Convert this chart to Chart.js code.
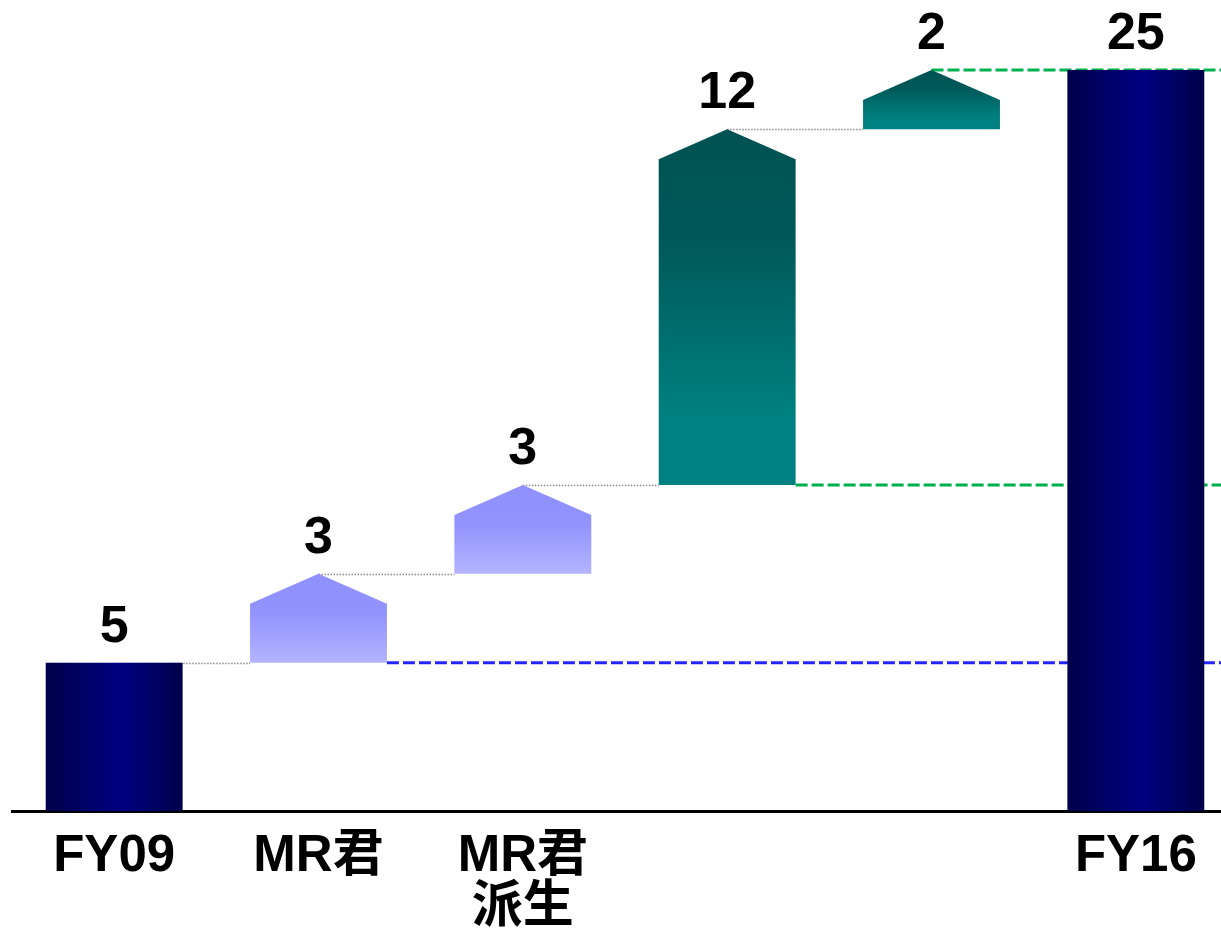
<!DOCTYPE html>
<html>
<head>
<meta charset="utf-8">
<script src="https://cdn.jsdelivr.net/npm/chart.js@4.4.1/dist/chart.umd.min.js"></script>
<style>
  html, body { margin: 0; padding: 0; background: #fff; overflow: hidden; }
  #wrap { width: 1238px; height: 932px; }
</style>
</head>
<body>
<div id="wrap"><canvas id="waterfall" width="1238" height="932"></canvas></div>
<script>
// data
const categories = ['FY09', 'MR君', ['MR君', '派生'], '', '', 'FY16'];
const changes = [5, 3, 3, 12, 2, 25];
const isTotal = [true, false, false, false, false, true];
const barStyle = ['navy', 'lavender', 'lavender', 'teal', 'teal', 'navy'];
// dashed reference lines: value, bar they start from, colour
const refValues = [5, 11, 25];
const refFromBar = [1, 3, 4];
const refColors = ['#2424ff', '#00b050', '#00b050'];

// running totals -> floating bars [start, end]
let running = 0;
const floats = changes.map((v, i) => {
  if (isTotal[i]) { running = v; return [0, v]; }
  const seg = [running, running + v];
  running += v;
  return seg;
});

const ROOF = 30;
const FONT = '"Liberation Sans", Arial, "Noto Sans CJK JP", sans-serif';

function fillFor(ctx, style, b) {
  const l = b.x - b.width / 2, r = b.x + b.width / 2;
  let g;
  if (style === 'navy') {
    g = ctx.createLinearGradient(l, 0, r, 0);
    g.addColorStop(0, '#00004a');
    g.addColorStop(0.55, '#000082');
    g.addColorStop(1, '#00004a');
  } else if (style === 'lavender') {
    g = ctx.createLinearGradient(0, b.y, 0, b.base);
    g.addColorStop(0, '#9090ff');
    g.addColorStop(0.45, '#9393fd');
    g.addColorStop(1, '#b4b4ff');
  } else {
    g = ctx.createLinearGradient(0, b.y, 0, b.base);
    g.addColorStop(0, '#005252');
    g.addColorStop(0.3, '#005858');
    g.addColorStop(0.8, '#008080');
    g.addColorStop(1, '#008080');
  }
  return g;
}

function shapePath(ctx, b, roof) {
  const l = b.x - b.width / 2, r = b.x + b.width / 2;
  ctx.beginPath();
  ctx.moveTo(l, b.base);
  if (roof) {
    ctx.lineTo(l, b.y + ROOF);
    ctx.lineTo(b.x, b.y);
    ctx.lineTo(r, b.y + ROOF);
  } else {
    ctx.lineTo(l, b.y);
    ctx.lineTo(r, b.y);
  }
  ctx.lineTo(r, b.base);
  ctx.closePath();
}

const waterfallPlugin = {
  id: 'waterfall',
  beforeDatasetsDraw(chart) {
    const ctx = chart.ctx;
    const y = chart.scales.y;
    const bars = chart.getDatasetMeta(0).data;
    ctx.save();
    // grey dotted connectors
    ctx.strokeStyle = '#8c8c8c';
    ctx.lineWidth = 1.5;
    ctx.setLineDash([1.5, 1.5]);
    for (let i = 0; i < 4; i++) {
      const py = Math.round(y.getPixelForValue(floats[i][1])) + 0.5;
      ctx.beginPath();
      ctx.moveTo(bars[i].x, py);
      ctx.lineTo(bars[i + 1].x - bars[i + 1].width / 2, py);
      ctx.stroke();
    }
    // coloured dashed reference lines
    ctx.lineWidth = 3;
    ctx.setLineDash([12, 4]);
    refValues.forEach((v, k) => {
      const b = bars[refFromBar[k]];
      const py = y.getPixelForValue(v);
      // from the roof peak when the line marks a bar top, else from the bar's right edge
      const x0 = v === floats[refFromBar[k]][1] ? b.x : b.x + b.width / 2;
      ctx.strokeStyle = refColors[k];
      ctx.beginPath();
      ctx.moveTo(x0, py);
      ctx.lineTo(chart.width, py);
      ctx.stroke();
    });
    ctx.restore();
  },
  beforeDatasetDraw(chart, args) {
    const ctx = chart.ctx;
    const bars = args.meta.data;
    ctx.save();
    bars.forEach((b, i) => {
      shapePath(ctx, b, !isTotal[i]);
      ctx.fillStyle = fillFor(ctx, barStyle[i], b);
      ctx.fill();
    });
    ctx.restore();
    return false;
  },
  afterDatasetsDraw(chart) {
    const ctx = chart.ctx;
    const bars = chart.getDatasetMeta(0).data;
    ctx.save();
    ctx.fillStyle = '#000';
    ctx.font = 'bold 52px ' + FONT;
    ctx.textAlign = 'center';
    ctx.textBaseline = 'alphabetic';
    bars.forEach((b, i) => {
      ctx.fillText(String(changes[i]), b.x, b.y - 21);
    });
    ctx.restore();
  }
};

new Chart(document.getElementById('waterfall'), {
  type: 'bar',
  data: {
    labels: categories,
    datasets: [{
      data: floats,
      backgroundColor: 'transparent',
      barPercentage: 0.67,
      categoryPercentage: 1
    }]
  },
  options: {
    responsive: false,
    animation: false,
    layout: { padding: { left: 12, right: 0, top: 0, bottom: 0 } },
    plugins: { legend: { display: false }, tooltip: { enabled: false } },
    scales: {
      x: {
        grid: { display: false, drawTicks: false },
        border: { display: true, color: '#000', width: 3 },
        ticks: {
          color: '#000',
          padding: 20,
          autoSkip: false,
          maxRotation: 0,
          font: { family: FONT, size: 51, weight: 'bold', lineHeight: 1.0 }
        },
        afterFit(scale) { scale.height = 121; }
      },
      y: {
        display: false,
        min: 0,
        max: 27.36
      }
    }
  },
  plugins: [waterfallPlugin]
});
</script>
</body>
</html>
